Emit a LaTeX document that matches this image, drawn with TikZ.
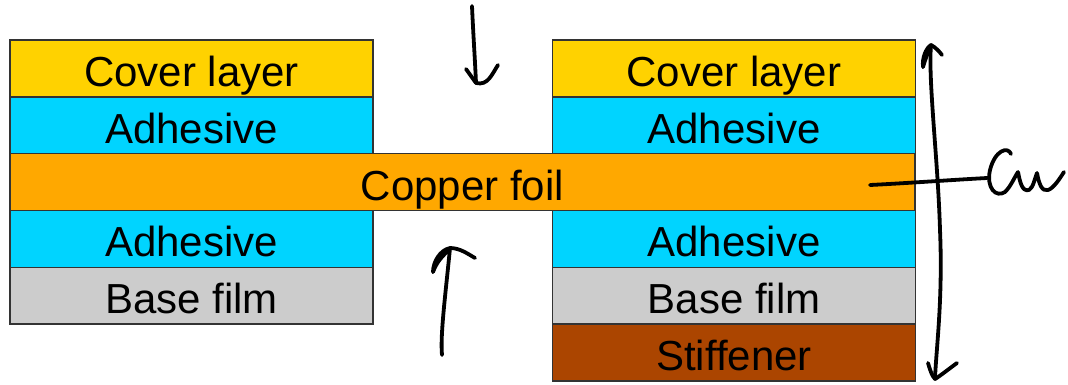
\documentclass[tikz,border=0pt]{standalone}
\usepackage{fontspec}
\setmainfont{Liberation Sans}
\definecolor{coverc}{HTML}{FFD200}
\definecolor{adhc}{HTML}{00D4FF}
\definecolor{cuc}{HTML}{FFA800}
\definecolor{basec}{HTML}{CCCCCC}
\definecolor{stiffc}{HTML}{AB4500}
\begin{document}
\begin{tikzpicture}[x=1pt,y=-1pt,
  layer/.style={draw=black!80, line width=1.4pt, inner sep=0pt, minimum height=56.8pt,
    text height=36pt, text depth=0pt, font=\fontsize{42}{42}\selectfont},
  side/.style={layer, minimum width=363pt},
  ink/.style={line width=3.8pt, line cap=round, line join=round, black}]
\useasboundingbox (0,0) rectangle (1068,384);
% left stack
\node[side, fill=coverc] (lcover) at (191.5,68.4) {Cover layer};
\node[side, fill=adhc]   (ladh1)  at (191.5,125.2) {Adhesive};
\node[side, fill=adhc]   (ladh2)  at (191.5,238.8) {Adhesive};
\node[side, fill=basec]  (lbase)  at (191.5,295.6) {Base film};
% right stack
\node[side, fill=coverc] (rcover) at (734,68.4) {Cover layer};
\node[side, fill=adhc]   (radh1)  at (734,125.2) {Adhesive};
\node[side, fill=adhc]   (radh2)  at (734,238.8) {Adhesive};
\node[side, fill=basec]  (rbase)  at (734,295.6) {Base film};
\node[side, fill=stiffc] (rstiff) at (734,352.4) {Stiffener};
% copper foil
\node[layer, fill=cuc, minimum width=905pt] (foil) at (462.5,182) {Copper foil};
% hand-drawn arrows
\coordinate (dtop) at (472,6);
\coordinate (dtip) at (476,83);
\draw[ink] (dtop) .. controls (473,30) and (475,60) .. (dtip);
\draw[ink] (466,69) -- (dtip);
\draw[ink] (498,65) .. controls (492,74) and (488,86) .. (dtip);
\coordinate (ubot) at (442,355);
\coordinate (utip) at (450,248);
\draw[ink] (ubot) .. controls (440,335) and (446,290) .. (utip);
\draw[ink] (433,272) .. controls (433,262) and (440,250) .. (utip);
\draw[ink] (433,272) .. controls (436,264) and (440,258) .. (449,250);
\draw[ink] (utip) .. controls (460,248) and (468,254) .. (475,258);
% vertical dimension arrow
\coordinate (vtop) at (931,45);
\coordinate (vbot) at (935,379);
\draw[ink] (vtop) .. controls (928,80) and (938,160) .. (940,230) .. controls (943,300) and (936,350) .. (vbot);
\draw[ink] (923,67) .. controls (922,58) and (926,48) .. (vtop);
\draw[ink] (923,67) .. controls (925,60) and (928,52) .. (930,48);
\draw[ink] (vtop) .. controls (935,47) and (939,51) .. (942,55);
\draw[ink] (928,363) .. controls (930,370) and (932,376) .. (vbot);
\draw[ink] (957,363) .. controls (950,368) and (940,376) .. (vbot);
% Cu label line
\coordinate (cuend) at (987,178);
\draw[ink] (870,185) .. controls (910,183) and (950,180) .. (cuend);
\draw[ink] (1011,154) .. controls (1008,146) and (995,150) .. (990,170)
  .. controls (986,188) and (996,198) .. (1005,192)
  .. controls (1011,186) and (1014,178) .. (1018,172)
  .. controls (1020,182) and (1022,192) .. (1029,190)
  .. controls (1033,188) and (1035,178) .. (1037,173)
  .. controls (1039,184) and (1042,192) .. (1048,190)
  .. controls (1054,188) and (1060,178) .. (1064,172);
\end{tikzpicture}
\end{document}
